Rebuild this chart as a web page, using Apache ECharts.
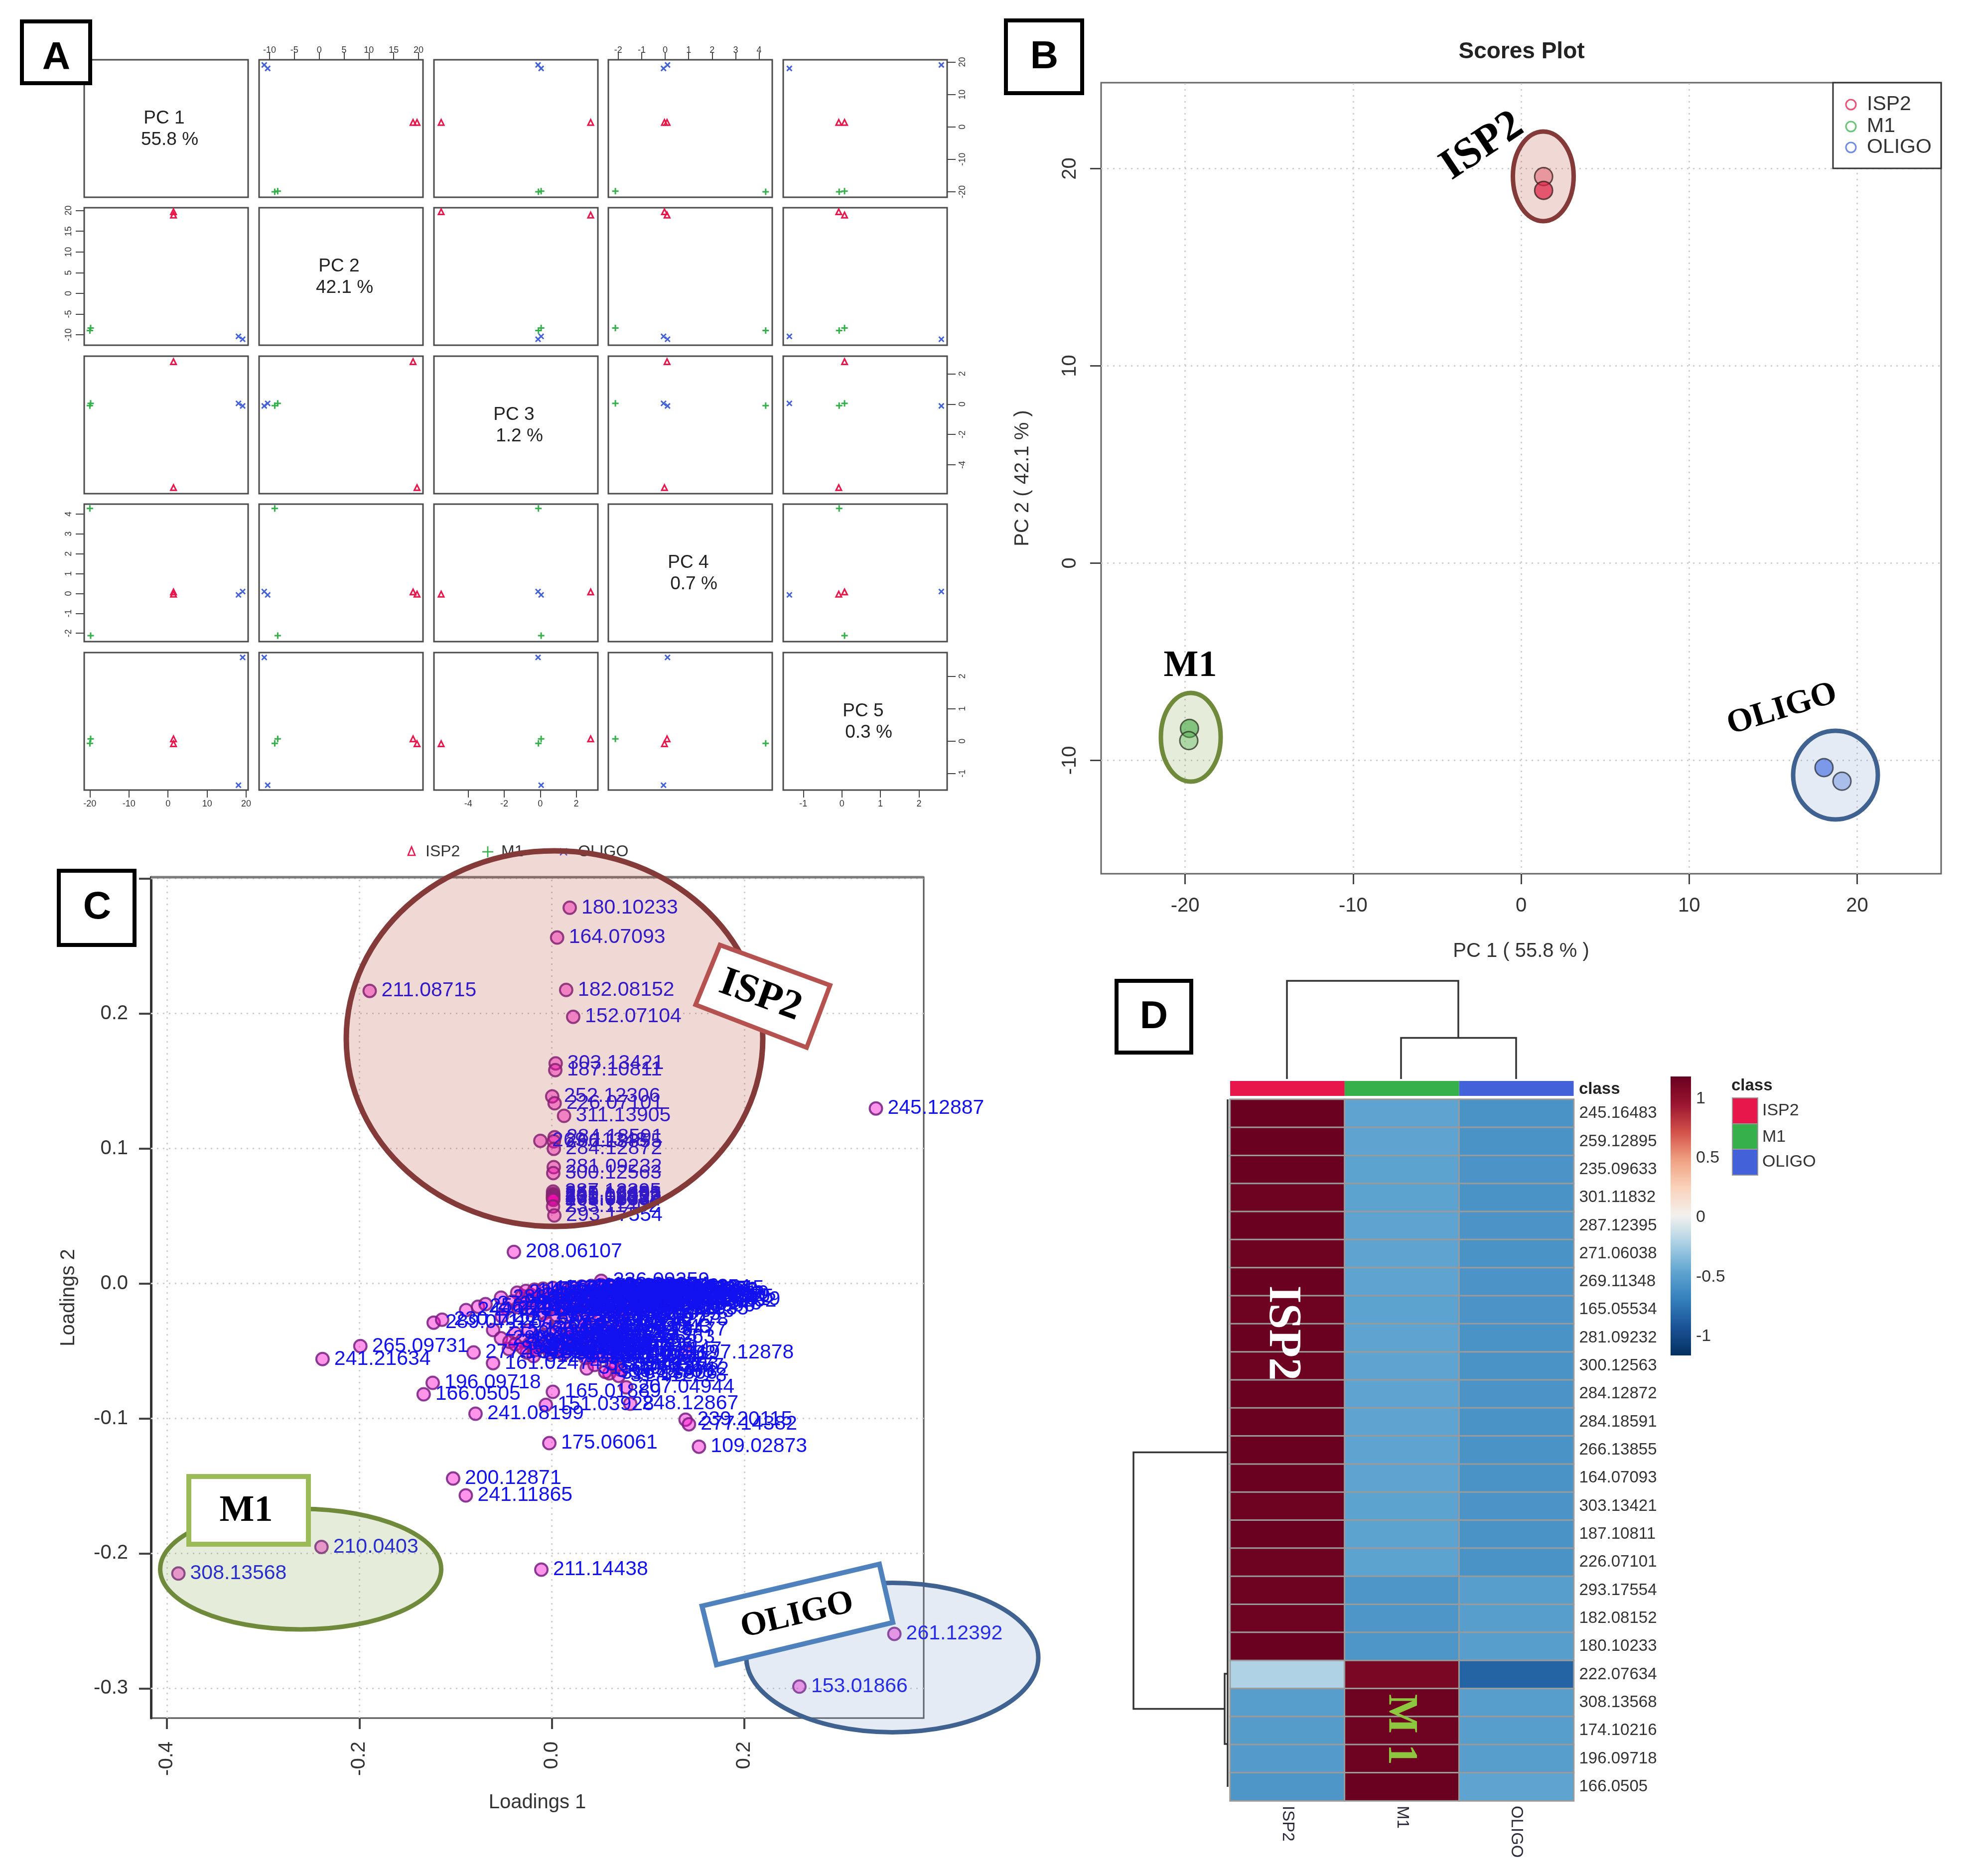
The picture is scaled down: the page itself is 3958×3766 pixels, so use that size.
<!DOCTYPE html>
<html><head><meta charset="utf-8">
<style>html,body{margin:0;padding:0;background:#fff}#c{width:3958px;height:3766px}</style>
<script src="https://cdn.jsdelivr.net/npm/echarts@6/dist/echarts.min.js"></script>
</head><body><div id="c"></div>
<script>
// ---------- values ----------
const groups = ['ISP2', 'M1', 'OLIGO'];
const pcNames = ['PC 1', 'PC 2', 'PC 3', 'PC 4', 'PC 5'];
const pcPercents = ['55.8 %', '42.1 %', '1.2 %', '0.7 %', '0.3 %'];
const scoresISP2 = [[1.4, 19.7, -5.5, -0.03, -0.08], [1.4, 18.9, 2.8, 0.08, 0.07]];
const scoresM1 = [[-19.8, -8.35, 0.05, -2.12, 0.07], [-20.0, -8.95, -0.1, 4.28, -0.07]];
const scoresOLIGO = [[18.03, -10.37, 0.05, -0.07, -1.36], [19.1, -11.06, -0.12, 0.1, 2.58]];
const pcRangeX = [[-21.45, 20.5], [-12.1, 20.9], [-5.9, 3.2], [-2.42, 4.56], [-1.52, 2.73]];
const pcRangeY = [[-21.7, 20.7], [-12.5, 20.67], [-5.9, 3.16], [-2.42, 4.5], [-1.51, 2.73]];
const pcTicks = [[-20, -10, 0, 10, 20], [-10, -5, 0, 5, 10, 15, 20], [-4, -2, 0, 2], [-2, -1, 0, 1, 2, 3, 4], [-1, 0, 1, 2]];

const scoreTicksX = [-20, -10, 0, 10, 20];
const scoreTicksY = [-10, 0, 10, 20];

const loadingTicksX = [-0.4, -0.2, 0, 0.2];
const loadingTicksY = [-0.3, -0.2, -0.1, 0, 0.1, 0.2, 0.3];

const loadingLabels = [
 '180.10233','164.07093','182.08152','152.07104','211.08715','303.13421','187.10811','252.12306','226.07101','311.13905',
 '284.18591','266.13855','269.11348','284.12872','281.09232','300.12563','287.12395','245.16483','259.12895','235.09633',
 '301.11832','271.06038','165.05534','233.11402','293.17554','208.06107','245.12887','236.09259','197.12878','160.0395',
 '265.09731','241.21634','277.13425','196.09718','166.0505','241.08199','165.01889','151.03928','248.12867','207.04944',
 '239.20115','277.14382','175.06061','109.02873','200.12871','241.11865','211.14438','210.0403','308.13568','261.12392',
 '153.01866','289.07126','230.10127','244.09312','258.11863','272.13427','286.14995','229.15477','161.02474','215.13961',
 '221.06621','138.05496','146.06004','148.07569','150.05496','154.08626','156.06552','158.08117','162.05495','168.07569',
 '170.09634','172.07561','176.07061','178.08626','184.09691','186.07618','188.09183','190.10748','192.08674','194.10239',
 '198.08666','202.08157','204.09722','206.07649','212.09213','214.10778','216.08705','218.10270','220.11835','224.09197',
 '228.12344','231.11310','232.10262','234.11827','237.12284','238.11318','240.12883','242.10810','243.13850','246.11301',
 '247.12866','249.09688','250.11253','251.12818','253.10744','254.11309','255.12874','256.14439','257.15004','258.08601',
 '260.13930','262.11857','263.12422','264.13987','267.10913','268.12478','270.14043','273.11470','274.12035','275.13600',
 '276.14165','278.11592','279.12157','280.13722','282.15287','283.11213','285.12778','288.14343','290.09270','291.10835',
 '292.12400','294.13965','295.10891','296.12456','297.14021','298.15586','299.11512','302.13077','304.14642','305.11568',
 '306.12133','307.13698','309.14263','310.11189','312.12754','313.14319','314.10245','315.10812','316.13806','317.12228',
 '318.13793','319.14358','320.11284','321.12849','322.14414','323.15979','324.10905','325.12470','326.14035','327.15600',
 '328.11526','329.13091','330.14656','331.10582','332.12147','333.13712','334.15277','335.11203','336.12768','337.14333',
 '338.10259','339.11824','340.13389','341.14954','342.10880','343.12445','344.14010','345.15575'
];
const loadingX = [
 .0186,.0055,.0149,.0222,-.1893,.004,.0036,.0004,.0029,.0127,
 .0029,.0021,-.0119,.0021,.002,.0015,.0013,.0013,.0015,.0012,
 .0014,.0012,.0015,.0013,.0026,-.0394,.3368,.0513,.139,.0466,
 -.199,-.2383,-.0813,-.1238,-.1332,-.0793,.0011,-.0062,.0815,.0773,
 .139,.1425,-.0026,.1529,-.1026,-.0894,-.0109,-.2394,-.3881,.356,
 .2573,-.1228,-.114,-.0891,-.0767,-.0689,-.0528,.0695,-.0611,-.061,
 -.036,-.031,-.027,-.022,-.018,-.013,-.009,-.004,.001,.006,
 .011,.016,.021,.026,.031,.036,.041,.046,.051,.056,
 .061,.066,.071,.076,.081,.086,.091,.096,.101,.106,
 .111,.116,.121,.038,.044,.003,.014,.024,.059,-.041,
 -.035,-.028,-.021,-.015,-.008,-.002,.005,.012,.019,.027,
 .033,.041,.048,.055,.063,.069,.077,.084,.092,.099,
 .034,.019,-.047,-.052,-.006,.007,.071,.053,-.0528,-.0446,
 -.0382,-.031,-.024,-.017,-.011,-.003,.004,.011,.018,.025,
 .032,.039,.057,-.026,-.019,.125,.1057,.0363,.0597,.0694,
 .020,-.044,-.038,-.030,-.023,-.016,-.009,-.002,.005,.012,
 .035,.042,.049,.058,.064,.0715,.0665,.0625,.0555,.0445,
 .058,.072,.083,.094,.102,.108,.113,.118
];
const loadingY = [
 .2784,.2563,.2175,.1976,.2168,.1631,.1581,.1386,.1335,.1242,
 .1083,.1053,.1057,.0998,.0862,.0818,.0681,.0664,.0655,.0646,
 .0637,.0628,.0619,.057,.0504,.0234,.1297,.002,-.0515,-.0467,
 -.0464,-.056,-.0511,-.0736,-.0821,-.0965,-.0803,-.0899,-.0891,-.0769,
 -.1009,-.1043,-.1183,-.1209,-.1445,-.157,-.212,-.1952,-.2149,-.2596,
 -.2987,-.029,-.0268,-.0197,-.0172,-.0153,-.0105,-.0342,-.059,-.0345,
 -.0068,-.0092,-.0055,-.0084,-.0046,-.0101,-.0039,-.0078,-.0033,-.0088,
 -.0041,-.0095,-.0029,-.0072,-.0023,-.0083,-.0018,-.0066,-.0012,-.0079,
 -.0021,-.0074,-.0026,-.0091,-.0034,-.0069,-.0042,-.0105,-.0058,-.0087,
 -.0112,-.0096,-.0128,-.0125,-.0147,-.0138,-.0152,-.0131,-.0119,-.0134,
 -.0176,-.0149,-.0198,-.0163,-.0221,-.0182,-.0237,-.0171,-.0245,-.0193,
 -.0262,-.0214,-.0278,-.0169,-.0231,-.0156,-.0208,-.0144,-.0187,-.0165,
 -.0312,-.0335,-.0186,-.0243,-.0291,-.0318,-.0271,-.0324,-.0406,-.0485,
 -.0368,-.0423,-.0347,-.0459,-.0386,-.0437,-.0362,-.0471,-.0408,-.0449,
 -.0381,-.0435,-.0398,-.0512,-.0538,-.012,-.015,-.0629,-.0666,-.0684,
 -.0362,-.0432,-.0451,-.0478,-.0445,-.0492,-.0467,-.0512,-.0486,-.0524,
 -.0552,-.0541,-.0523,-.0519,-.0491,-.0639,-.0612,-.0597,-.0655,-.0603,
 -.0045,-.0052,-.0063,-.0031,-.0049,-.0038,-.0074,-.0102
];

const heatRows = ['245.16483','259.12895','235.09633','301.11832','287.12395','271.06038','269.11348','165.05534','281.09232','300.12563','284.12872','284.18591','266.13855','164.07093','303.13421','187.10811','226.07101','293.17554','182.08152','180.10233','222.07634','308.13568','174.10216','196.09718','166.0505'];
const heatISP2 = [1.17,1.17,1.17,1.16,1.17,1.16,1.17,1.16,1.17,1.16,1.17,1.17,1.17,1.17,1.16,1.17,1.16,1.16,1.16,1.17,-0.2,-0.5,-0.51,-0.52,-0.55];
const heatM1 = [-0.46,-0.46,-0.47,-0.47,-0.46,-0.46,-0.46,-0.47,-0.46,-0.46,-0.46,-0.46,-0.46,-0.46,-0.47,-0.47,-0.47,-0.55,-0.55,-0.55,1.1,1.16,1.15,1.16,1.17];
const heatOLIGO = [-0.57,-0.57,-0.56,-0.57,-0.56,-0.57,-0.56,-0.56,-0.57,-0.57,-0.56,-0.57,-0.57,-0.57,-0.56,-0.57,-0.57,-0.5,-0.5,-0.5,-0.83,-0.5,-0.5,-0.5,-0.46];
const heatTicks = [-1, -0.5, 0, 0.5, 1];
const heatRamp = ['#053061','#1a5296','#337fbc','#60a5d0','#a9cfe4','#f2f1ee','#fad3bc','#f0a283','#d3524a','#9a1530','#67001f'];
const groupColors = ['#e8174b', '#35b04a', '#4361d8'];

// ---------- option building ----------
const SANS = '"Liberation Sans"', SERIF = '"Liberation Serif"';
const grid = [], xAxis = [], yAxis = [], series = [], graphic = [];
function axisBase(extra){ return Object.assign({axisLine:{show:false,onZero:false},splitLine:{show:false},minorTick:{show:false}},extra); }

// Panel A — scatter matrix
const cellL = [169,520,871,1221,1572], cellT = [120,417,715,1012,1310], cellW = 329, cellH = 276;
const symTriangle = 'triangle', symPlus = 'path://M0 5L10 5M5 0L5 10', symCross = 'path://M1 1L9 9M9 1L1 9';
const scoreSets = [scoresISP2, scoresM1, scoresOLIGO], pairSym = [symTriangle, symPlus, symCross];
for (let r=0;r<5;r++) for (let c=0;c<5;c++){
  const g = grid.length;
  grid.push({left:cellL[c],top:cellT[r],width:cellW,height:cellH,show:true,borderColor:'#4a4a4a',borderWidth:3,backgroundColor:'#fff'});
  const showX = (r===0&&c%2===1)||(r===4&&c%2===0);
  const showY = (c===0&&r%2===1)||(c===4&&r%2===0);
  xAxis.push(axisBase({gridIndex:g,type:'value',min:pcRangeX[c][0],max:pcRangeX[c][1],show:showX,position:r===0?'top':'bottom',
    axisTick:{show:true,length:15,lineStyle:{color:'#444',width:2},customValues:pcTicks[c]},
    axisLabel:{show:true,customValues:pcTicks[c],fontFamily:SANS,fontSize:18,color:'#333',margin:r===0?10:19}}));
  yAxis.push(axisBase({gridIndex:g,type:'value',min:pcRangeY[r][0],max:pcRangeY[r][1],show:showY,position:c===0?'left':'right',
    axisTick:{show:true,length:17,lineStyle:{color:'#444',width:2},customValues:pcTicks[r]},
    axisLabel:{show:true,rotate:90,customValues:pcTicks[r],fontFamily:SANS,fontSize:18,color:'#333',margin:22}}));
  if (r===c){
    graphic.push({type:'text',z:5,x:cellL[c]+cellW/2-4,y:cellT[r]+cellH/2-20,style:{text:pcNames[r],font:'37px '+SANS,fill:'#222',align:'center',verticalAlign:'middle'}});
    graphic.push({type:'text',z:5,x:cellL[c]+cellW/2+7,y:cellT[r]+cellH/2+23,style:{text:pcPercents[r],font:'37px '+SANS,fill:'#222',align:'center',verticalAlign:'middle'}});
    continue;
  }
  scoreSets.forEach((set,i)=>{
    series.push({type:'scatter',xAxisIndex:g,yAxisIndex:g,silent:true,symbol:pairSym[i],symbolSize:i===0?11:(i===1?13:10),
      itemStyle:{color:'transparent',borderColor:groupColors[i],borderWidth:3,opacity:1},
      data:set.map(s=>[s[c],s[r]])});
  });
}
// legend shared under A
graphic.push({type:'polygon',z:4,shape:{points:[[826,1700],[819,1717],[833,1717]]},style:{fill:'none',stroke:groupColors[0],lineWidth:2.6}});
graphic.push({type:'text',z:4,x:854,y:1710,style:{text:'ISP2',font:'32px '+SANS,fill:'#333',align:'left',verticalAlign:'middle'}});
graphic.push({type:'polyline',z:4,shape:{points:[[968,1710],[990,1710]]},style:{stroke:groupColors[1],fill:'none',lineWidth:2.6}});
graphic.push({type:'polyline',z:4,shape:{points:[[979,1699],[979,1721]]},style:{stroke:groupColors[1],fill:'none',lineWidth:2.6}});
graphic.push({type:'text',z:4,x:1006,y:1710,style:{text:'M1',font:'32px '+SANS,fill:'#333',align:'left',verticalAlign:'middle'}});
graphic.push({type:'polyline',z:4,shape:{points:[[1124,1703],[1138,1717]]},style:{stroke:groupColors[2],fill:'none',lineWidth:2.6}});
graphic.push({type:'polyline',z:4,shape:{points:[[1138,1703],[1124,1717]]},style:{stroke:groupColors[2],fill:'none',lineWidth:2.6}});
graphic.push({type:'text',z:4,x:1160,y:1710,style:{text:'OLIGO',font:'32px '+SANS,fill:'#333',align:'left',verticalAlign:'middle'}});

// Panel B — scores plot
const gB = grid.length;
grid.push({left:2210,top:166,width:1686,height:1588,show:true,borderColor:'#666',borderWidth:3,backgroundColor:'#fff'});
xAxis.push(axisBase({gridIndex:gB,type:'value',min:-25,max:25,name:'PC 1 ( 55.8 % )',nameLocation:'middle',nameGap:136,
  nameTextStyle:{fontFamily:SANS,fontSize:40,color:'#333'},
  axisTick:{show:true,length:21,lineStyle:{color:'#444',width:3},customValues:scoreTicksX},
  axisLabel:{show:true,customValues:scoreTicksX,fontFamily:SANS,fontSize:40,color:'#333',margin:45}}));
yAxis.push(axisBase({gridIndex:gB,type:'value',min:-15.75,max:24.36,name:'PC 2 ( 42.1 % )',nameLocation:'middle',nameGap:137,nameRotate:90,
  nameTextStyle:{fontFamily:SANS,fontSize:40,color:'#333'},
  axisTick:{show:true,length:22,lineStyle:{color:'#444',width:3},customValues:scoreTicksY},
  axisLabel:{show:true,rotate:90,customValues:scoreTicksY,fontFamily:SANS,fontSize:40,color:'#333',margin:42}}));
const gridDots = {color:'#cfcfcf',width:3,type:[3,9]};
const scorePts = [
  {pts:[[1.34,19.6],[1.34,18.9]],cols:['rgba(235,70,100,.55)','rgba(235,30,75,.9)']},
  {pts:[[-19.74,-8.38],[-19.78,-9.0]],cols:['rgba(60,179,75,.8)','rgba(80,190,95,.5)']},
  {pts:[[18.03,-10.37],[19.1,-11.06]],cols:['rgba(65,105,235,.85)','rgba(75,115,225,.5)']}
];
scorePts.forEach((s,i)=>{
  series.push({type:'scatter',xAxisIndex:gB,yAxisIndex:gB,silent:true,symbolSize:36,z:3,
    data:s.pts.map((p,k)=>({value:p,itemStyle:{color:s.cols[k],borderColor:'#222',borderWidth:3}})),
    markLine:i===0?{silent:true,symbol:'none',label:{show:false},z:1,lineStyle:gridDots,
      data:scoreTicksX.map(v=>({xAxis:v})).concat(scoreTicksY.map(v=>({yAxis:v})))}:undefined});
});
graphic.push({type:'text',z:4,x:3054,y:104,style:{text:'Scores Plot',font:'bold 46px '+SANS,fill:'#222',align:'center',verticalAlign:'middle'}});
graphic.push({type:'rect',z:6,shape:{x:3679,y:166,width:217,height:172},style:{fill:'#fff',stroke:'#333',lineWidth:3}});
groups.forEach((n,i)=>{
  const y=[210,254,296][i];
  graphic.push({type:'circle',z:7,shape:{cx:3715,cy:y,r:10},style:{fill:'none',stroke:groupColors[i],lineWidth:3,opacity:.75}});
  graphic.push({type:'text',z:7,x:3747,y:y,style:{text:n,font:'41px '+SANS,fill:'#333',align:'left',verticalAlign:'middle'}});
});

// Panel C — loadings plot
const gC = grid.length;
grid.push({left:303,top:1761,width:1551,height:1688,show:true,borderColor:'#555',borderWidth:3,backgroundColor:'#fff'});
const fmt1 = v=>Number(v).toFixed(1);
xAxis.push(axisBase({gridIndex:gC,type:'value',min:-0.4166,max:0.3865,name:'Loadings 1',nameLocation:'middle',nameGap:150,
  nameTextStyle:{fontFamily:SANS,fontSize:40,color:'#333'},
  axisTick:{show:true,length:22,lineStyle:{color:'#444',width:4},customValues:loadingTicksX},
  axisLabel:{show:true,rotate:90,customValues:loadingTicksX,formatter:fmt1,fontFamily:SANS,fontSize:40,color:'#333',margin:47}}));
yAxis.push(axisBase({gridIndex:gC,type:'value',min:-0.322,max:0.301,name:'Loadings 2',nameLocation:'middle',nameGap:145,nameRotate:90,
  nameTextStyle:{fontFamily:SANS,fontSize:40,color:'#333'},
  axisLine:{show:true,onZero:false,lineStyle:{color:'#333',width:5}},
  axisTick:{show:true,length:24,lineStyle:{color:'#444',width:4},customValues:loadingTicksY},
  axisLabel:{show:true,customValues:loadingTicksY,formatter:fmt1,fontFamily:SANS,fontSize:40,color:'#333',margin:46}}));
series.push({type:'scatter',xAxisIndex:gC,yAxisIndex:gC,silent:true,symbolSize:25,z:3,
  itemStyle:{color:'rgba(255,0,204,.42)',borderColor:'rgba(120,30,130,.85)',borderWidth:4,opacity:1},
  label:{show:true,position:'right',distance:9,offset:[0,-4],fontFamily:SANS,fontSize:41,color:'#1212f0',formatter:p=>p.data[2]},
  labelLayout:{hideOverlap:false},
  data:loadingLabels.map((t,i)=>[loadingX[i],loadingY[i],t]),
  markLine:{silent:true,symbol:'none',label:{show:false},z:1,lineStyle:gridDots,
    data:loadingTicksX.map(v=>({xAxis:v})).concat(loadingTicksY.map(v=>({yAxis:v})))}});
graphic.push({type:'polyline',z:3,shape:{points:[[303,1761],[1854,1761]]},style:{stroke:'#7a7a7a',fill:'none',lineWidth:5}});

// Panel D — heatmap
const gD = grid.length;
grid.push({left:2469,top:2207,width:689.5,height:1408});
xAxis.push(axisBase({gridIndex:gD,type:'category',data:groups,position:'bottom',axisTick:{show:false},
  axisLabel:{rotate:-90,fontFamily:SANS,fontSize:33,color:'#2a2a3a',margin:10,interval:0}}));
yAxis.push(axisBase({gridIndex:gD,type:'category',data:heatRows,inverse:true,position:'right',axisTick:{show:false},
  axisLabel:{fontFamily:SANS,fontSize:33,color:'#333',margin:11,interval:0,padding:[6,0,0,0]}}));
const heatData=[];
heatRows.forEach((_,r)=>{heatData.push([0,r,heatISP2[r]],[1,r,heatM1[r]],[2,r,heatOLIGO[r]]);});
const heatIdx = series.length;
series.push({type:'heatmap',xAxisIndex:gD,yAxisIndex:gD,silent:true,progressive:0,data:heatData,
  itemStyle:{borderColor:'#9a9a9a',borderWidth:3}});
// class strip
const gK = grid.length;
grid.push({left:2469,top:2170,width:689.5,height:30});
xAxis.push(axisBase({gridIndex:gK,type:'category',data:groups,show:false}));
yAxis.push(axisBase({gridIndex:gK,type:'value',min:0,max:1,show:false}));
series.push({type:'bar',xAxisIndex:gK,yAxisIndex:gK,silent:true,barWidth:'100%',
  data:groups.map((_,i)=>({value:1,itemStyle:{color:groupColors[i]}}))});
// colour bar scale
const gS = grid.length;
grid.push({left:3353,top:2161,width:41,height:560});
xAxis.push(axisBase({gridIndex:gS,type:'value',min:0,max:1,show:false}));
yAxis.push(axisBase({gridIndex:gS,type:'value',min:-1.16,max:1.186,position:'right',axisTick:{show:false},
  axisLabel:{show:true,customValues:heatTicks,fontFamily:SANS,fontSize:34,color:'#333',margin:10}}));
graphic.push({type:'rect',z:1,shape:{x:3353,y:2161,width:41,height:560},style:{fill:{type:'linear',x:0,y:1,x2:0,y2:0,
  colorStops:heatRamp.map((c,i)=>({offset:i/(heatRamp.length-1),color:c}))}}});
graphic.push({type:'text',z:4,x:3169,y:2187,style:{text:'class',font:'bold 33px '+SANS,fill:'#222',align:'left',verticalAlign:'middle'}});
graphic.push({type:'text',z:4,x:3475,y:2180,style:{text:'class',font:'bold 33px '+SANS,fill:'#222',align:'left',verticalAlign:'middle'}});
groups.forEach((n,i)=>{
  const y=[2204,2256,2307][i];
  graphic.push({type:'rect',z:4,shape:{x:3477,y:y,width:51,height:52},style:{fill:groupColors[i],stroke:'#999',lineWidth:2}});
  graphic.push({type:'text',z:4,x:3537,y:[2230,2283,2333][i],style:{text:n,font:'34px '+SANS,fill:'#333',align:'left',verticalAlign:'middle'}});
});
// dendrograms
[[[2583,2166],[2583,1969],[2927,1969],[2927,2083.5]],
 [[2812,2166],[2812,2083.5],[3043,2083.5],[3043,2166]],
 [[2464,2915.6],[2275,2915.6],[2275,3430.6],[2458,3430.6]],
 [[2464,2207],[2464,3587]],
 [[2464,3360],[2458,3360],[2458,3501],[2464,3501]]
].forEach(p=>graphic.push({type:'polyline',z:4,shape:{points:p},style:{stroke:'#333',fill:'none',lineWidth:3.5}}));
// annotations on the heatmap
function txt(t,x,y,deg,font,fill,z){graphic.push({type:'text',z:z||12,x:x,y:y,rotation:deg*Math.PI/180,style:{text:t,font:font,fill:fill,align:'center',verticalAlign:'middle'}});}
txt('ISP2',2573,2676,-90,'bold 93px '+SERIF,'#fff');
txt('M 1',2810,3472,-90,'bold 84px '+SERIF,'#8dc63f');

// overlay ellipses
function ell(cx,cy,rx,ry,fill,stroke,w){graphic.push({type:'ellipse',z:10,shape:{cx,cy,rx,ry},style:{fill:fill,stroke:stroke,lineWidth:w}});}
ell(3097.5,354,61,90,'rgba(180,60,45,.2)','#843a38',9);
ell(2390,1480,60,89,'rgba(130,160,70,.2)','#6f8a3a',9);
ell(3684,1556,85,89,'rgba(120,155,205,.2)','#3f6290',9);
ell(1113,2085,418,377,'rgba(180,60,45,.2)','#843a38',11);
ell(603.5,3150,282,121,'rgba(130,160,70,.2)','#6f8a3a',9);
ell(1791,3327.5,293,150,'rgba(120,155,205,.2)','#3f6290',9);

txt('ISP2',2975,294,33.7,'bold 87px '+SERIF,'#000');
txt('M1',2389,1338,0,'bold 74px '+SERIF,'#000');
txt('OLIGO',3577,1424,17,'bold 67px '+SERIF,'#000');

// callout boxes in C
function box(points,stroke,w){graphic.push({type:'polygon',z:11,shape:{points:points},style:{fill:'#fff',stroke:stroke,lineWidth:w}});}
box([[1445,1897],[1666,1978],[1619,2103],[1396,2017]],'#b5524f',9);
box([[379,2964],[619,2964],[619,3100],[379,3100]],'#9bbb59',10);
box([[1409,3224],[1765,3140],[1792,3257],[1438,3342]],'#4f81bd',10);
txt('ISP2',1526,1999,-20,'bold 82px '+SERIF,'#000');
txt('M1',494,3034,0,'bold 74px '+SERIF,'#000');
txt('OLIGO',1600,3243,13.3,'bold 68px '+SERIF,'#000');

// panel letters
function tag(t,x,y,w,h,cx,cy){
  graphic.push({type:'rect',z:13,shape:{x,y,width:w,height:h},style:{fill:'#fff',stroke:'#000',lineWidth:8}});
  graphic.push({type:'text',z:14,x:cx,y:cy,style:{text:t,font:'bold 78px '+SANS,fill:'#000',align:'center',verticalAlign:'middle'}});
}
tag('A',44,43,137,124,113,117);
tag('B',2019,41,153,146,2096,115);
tag('C',118,1748,152,149,195,1822);
tag('D',2241,1969,150,144,2316,2042);

const chart = echarts.init(document.getElementById('c'),null,{renderer:'canvas'});
chart.setOption({
  animation:false,backgroundColor:'#fff',tooltip:{show:false},
  textStyle:{fontFamily:SANS},
  grid,xAxis,yAxis,series,graphic,
  visualMap:[{type:'continuous',show:false,seriesIndex:heatIdx,min:-1.16,max:1.186,inRange:{color:heatRamp}}]
});
</script></body></html>
